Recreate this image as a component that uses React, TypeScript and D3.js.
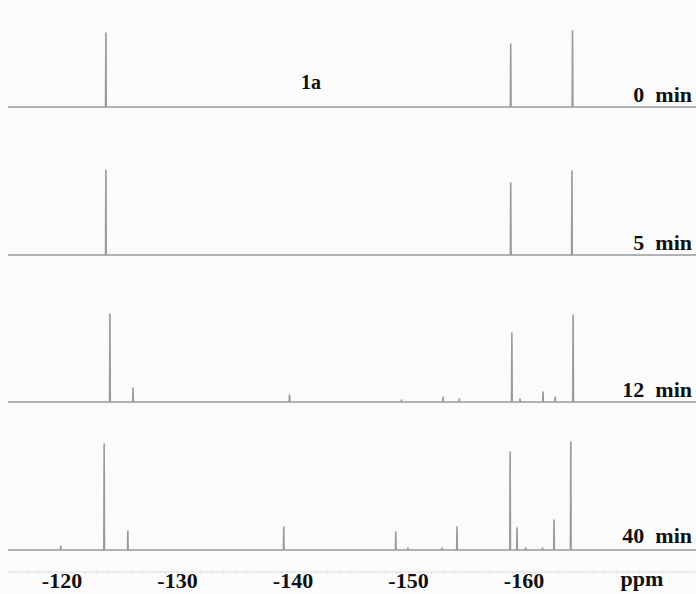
import { useEffect, useRef } from 'react';
import * as d3 from 'd3';

// stacked 19F NMR traces, peaks as [ppm, relative height]
const traceLabels = ['0 min', '5 min', '12 min', '40 min'];
const trace0: [number, number][] = [
  [-123.8, 74],
  [-158.85, 63],
  [-164.2, 76],
];
const trace5: [number, number][] = [
  [-123.8, 85],
  [-158.85, 72],
  [-164.15, 84],
];
const trace12: [number, number][] = [
  [-124.15, 88],
  [-126.15, 14],
  [-139.7, 7],
  [-149.4, 2],
  [-153.0, 5],
  [-154.4, 3],
  [-158.95, 69],
  [-159.65, 3],
  [-161.65, 10],
  [-162.7, 5],
  [-164.25, 87],
];
const trace40: [number, number][] = [
  [-119.9, 4],
  [-123.65, 106],
  [-125.7, 19],
  [-139.2, 23],
  [-148.9, 18],
  [-149.95, 2],
  [-152.9, 2],
  [-154.2, 23],
  [-158.8, 98],
  [-159.4, 22],
  [-160.15, 2],
  [-161.6, 2],
  [-162.6, 30],
  [-164.05, 108],
];
const traces = [trace0, trace5, trace12, trace40];
const tickValues = [-120, -130, -140, -150, -160];

const serif = '"Liberation Serif", "Times New Roman", serif';

export default function App() {
  const svgRef = useRef<SVGSVGElement>(null);
  const width = 696;
  const height = 594;

  useEffect(() => {
    if (!svgRef.current) return;
    const svg = d3.select(svgRef.current);
    svg.selectAll('*').remove();

    svg.append('rect').attr('width', width).attr('height', height).attr('fill', '#fbfbfb');

    const x = d3.scaleLinear().domain([-120, -160]).range([62, 524]);
    const baselines = [107, 255, 402, 550];
    const line = d3.line<[number, number]>().x((d) => x(d[0])).y((d) => d[1]);

    traces.forEach((peaks, i) => {
      const base = baselines[i];
      const y = d3.scaleLinear().domain([0, 100]).range([base, base - 100]);
      const sorted = [...peaks].sort((a, b) => b[0] - a[0]);
      const pts: [number, number][] = [[x.invert(8), y(0)]];
      sorted.forEach(([ppm, h]) => {
        pts.push([ppm + 0.03, y(0)]);
        pts.push([ppm, y(h)]);
        pts.push([ppm - 0.03, y(0)]);
      });
      pts.push([x.invert(width), y(0)]);

      svg.append('path')
        .attr('d', line(pts) ?? '')
        .attr('fill', 'none')
        .attr('stroke', '#9a9a9a')
        .attr('stroke-width', 1.6)
        .attr('stroke-linejoin', 'round');

      svg.append('text')
        .attr('x', 692)
        .attr('y', base - (i === 3 ? 7 : 5))
        .attr('text-anchor', 'end')
        .attr('font-family', serif)
        .attr('font-weight', 700)
        .attr('font-size', 22)
        .attr('fill', '#111')
        .text(traceLabels[i].replace(' ', '\u00a0\u00a0'));
    });

    // compound label
    svg.append('text')
      .attr('x', 311)
      .attr('y', 89)
      .attr('text-anchor', 'middle')
      .attr('font-family', serif)
      .attr('font-weight', 700)
      .attr('font-size', 20)
      .attr('fill', '#111')
      .text('1a');

    // faint axis
    const axisY = 572;
    svg.append('line')
      .attr('x1', 8).attr('x2', width)
      .attr('y1', axisY).attr('y2', axisY)
      .attr('stroke', '#dcdcdc').attr('stroke-width', 1);
    const minor = d3.range(-116, -175, -1);
    svg.selectAll('.minor')
      .data(minor)
      .enter()
      .append('line')
      .attr('x1', (d) => x(d)).attr('x2', (d) => x(d))
      .attr('y1', axisY).attr('y2', axisY + 2)
      .attr('stroke', '#dcdcdc');

    svg.selectAll('.tick')
      .data(tickValues)
      .enter()
      .append('text')
      .attr('x', (d) => x(d))
      .attr('y', 588)
      .attr('text-anchor', 'middle')
      .attr('font-family', serif)
      .attr('font-weight', 700)
      .attr('font-size', 22)
      .attr('fill', '#111')
      .text((d) => String(d));

    svg.append('text')
      .attr('x', 642)
      .attr('y', 586)
      .attr('text-anchor', 'middle')
      .attr('font-family', serif)
      .attr('font-weight', 700)
      .attr('font-size', 22)
      .attr('fill', '#111')
      .text('ppm');
  }, []);

  return (
    <svg
      ref={svgRef}
      width={width}
      height={height}
      style={{ position: 'absolute', left: 0, top: 0, display: 'block' }}
    />
  );
}
